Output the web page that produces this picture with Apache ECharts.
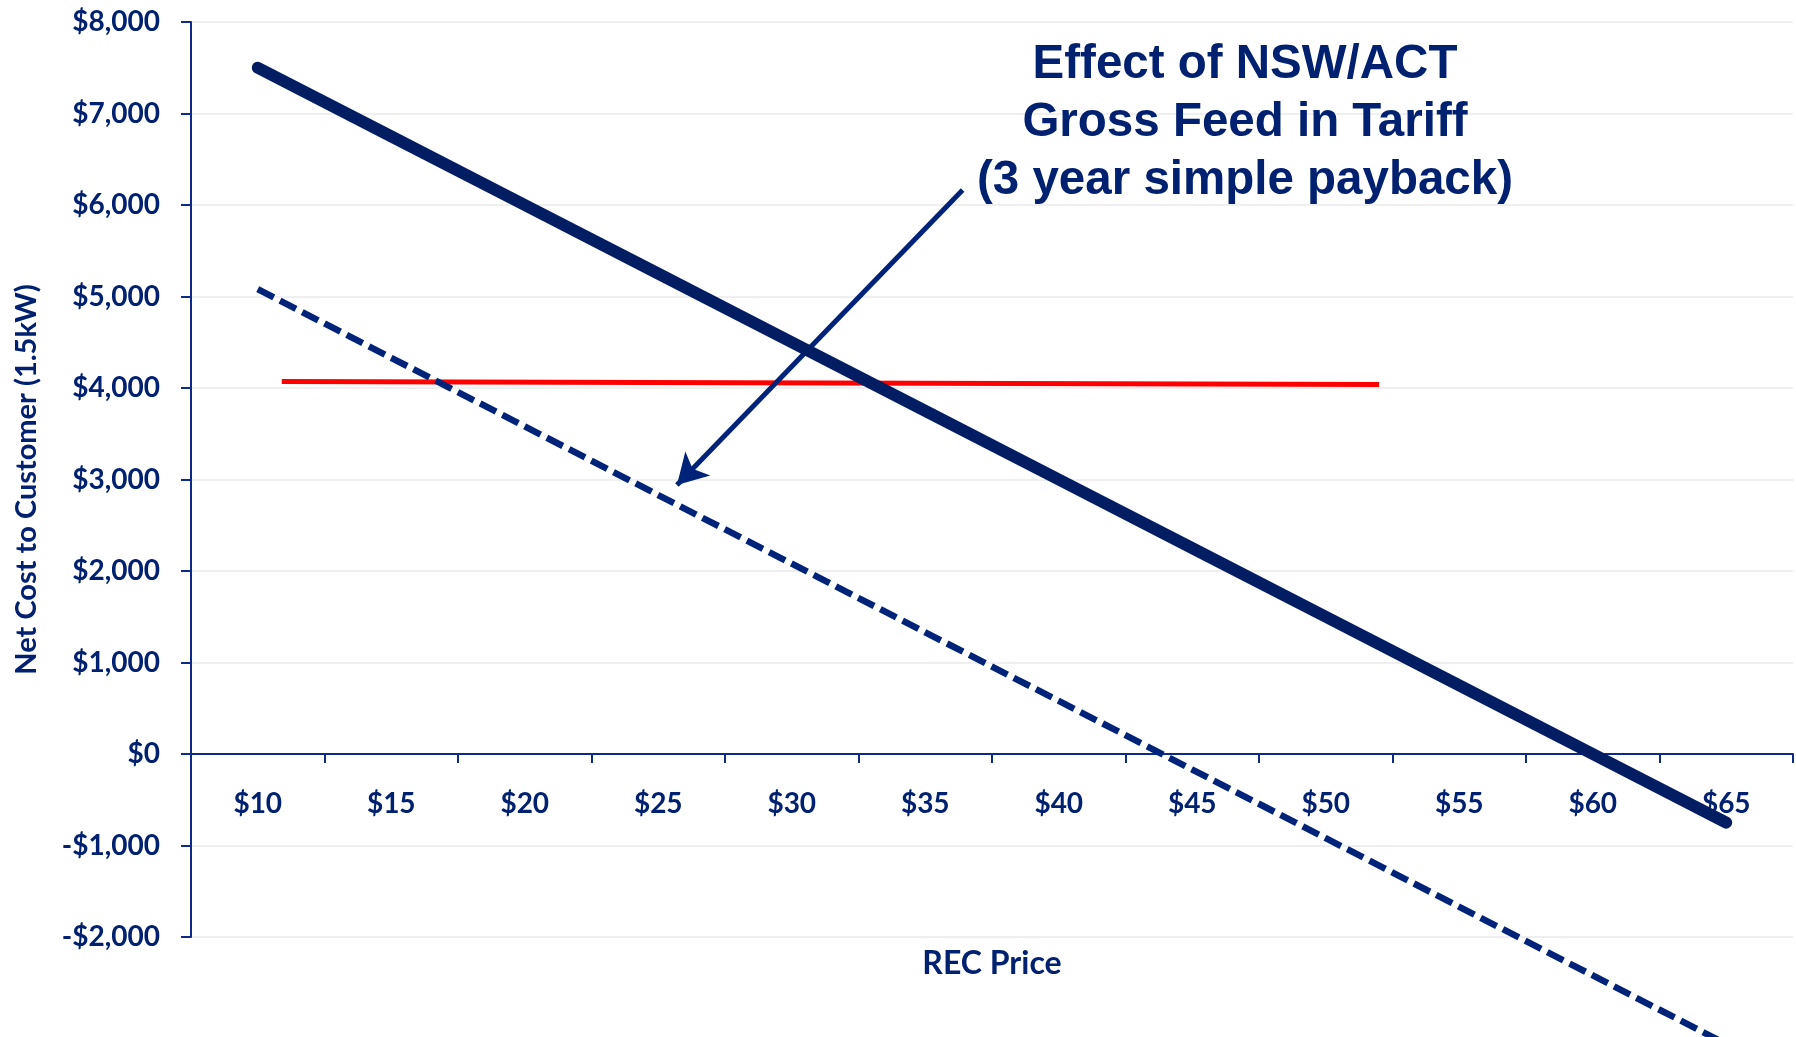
<!DOCTYPE html>
<html>
<head>
<meta charset="utf-8">
<script src="https://cdn.jsdelivr.net/npm/echarts@6/dist/echarts.min.js"></script>
<style>html,body{margin:0;padding:0;background:#fff;}#chart{width:1796px;height:1037px;}</style>
</head>
<body>
<div id="chart"></div>
<script>
// REC price categories
const recPrices = ['$10','$15','$20','$25','$30','$35','$40','$45','$50','$55','$60','$65'];
// Net cost to customer without feed-in tariff
const netCostBase = [7500, 6750, 6000, 5250, 4500, 3750, 3000, 2250, 1500, 750, 0, -750];
// Net cost with NSW/ACT gross feed-in tariff
const netCostFit = [5080, 4330, 3580, 2830, 2080, 1330, 580, -170, -920, -1670, -2420, -3170];
// 3 year simple payback threshold (REC price, cost)
const paybackPrice = [10.9, 52];
const paybackCost = [4070, 4037];
// Annotation arrow (REC price, cost): from text to dashed line
const arrowPrice = [36.4, 25.7];
const arrowCost = [6165, 2940];
// Y tick values
const yMin = -2000, yMax = 8000, yStep = 1000;

const navy = '#002070';
const axisNavy = '#0d2a86';
const fontCal = 'Lato, "Open Sans", sans-serif';

function money(v) {
  const s = Math.abs(v).toLocaleString('en-US');
  return (v < 0 ? '-$' : '$') + s;
}

const chart = echarts.init(document.getElementById('chart'), null, {renderer: 'canvas'});
chart.setOption({
  animation: false,
  backgroundColor: '#ffffff',
  title: {
    text: 'Effect of NSW/ACT\nGross Feed in Tariff\n(3 year simple payback)',
    left: 1240,
    top: 31,
    textAlign: 'center',
    textStyle: {
      fontFamily: '"Liberation Sans", Arial, sans-serif',
      fontWeight: 'bold',
      fontSize: 47.5,
      lineHeight: 58,
      color: navy
    }
  },
  grid: {left: 191, right: 3, top: 22, bottom: 100, containLabel: false, outerBoundsMode: 'none'},
  xAxis: [{
    type: 'category',
    data: recPrices,
    boundaryGap: true,
    name: 'REC Price',
    nameLocation: 'middle',
    nameGap: 11,
    nameMoveOverlap: false,
    nameTextStyle: {fontFamily: fontCal, fontWeight: 'bold', fontSize: 32, color: navy, verticalAlign: 'top'},
    axisLine: {onZero: true, lineStyle: {color: axisNavy, width: 2}},
    axisTick: {show: true, length: 9, lineStyle: {color: axisNavy, width: 2}},
    axisLabel: {margin: -147, fontFamily: fontCal, fontWeight: 'bold', fontSize: 28, color: navy},
    splitLine: {show: false}
  }, {
    type: 'value',
    min: 7.5,
    max: 67.5,
    show: false
  }],
  yAxis: {
    type: 'value',
    min: yMin,
    max: yMax,
    interval: yStep,
    name: 'Net Cost to Customer (1.5kW)',
    nameLocation: 'middle',
    nameRotate: 90,
    nameGap: 150,
    nameTextStyle: {fontFamily: fontCal, fontWeight: 'bold', fontSize: 29, color: navy},
    axisLine: {show: true, lineStyle: {color: axisNavy, width: 2}},
    axisTick: {show: true, length: 10, lineStyle: {color: axisNavy, width: 2}},
    axisLabel: {margin: 31, fontFamily: fontCal, fontWeight: 'bold', fontSize: 28, color: navy, formatter: money},
    splitLine: {show: true, lineStyle: {color: '#efefef', width: 2}}
  },
  series: [{
    name: 'Base',
    type: 'line',
    data: netCostBase,
    xAxisIndex: 0,
    showSymbol: false,
    symbol: 'none',
    clip: false,
    z: 5,
    lineStyle: {color: '#021d62', width: 12, cap: 'round'}
  }, {
    name: 'With FiT',
    type: 'line',
    data: netCostFit,
    xAxisIndex: 0,
    showSymbol: false,
    symbol: 'none',
    clip: false,
    z: 4,
    lineStyle: {color: '#00237a', width: 6.5, type: [18, 7], cap: 'butt'}
  }, {
    name: 'Payback',
    type: 'line',
    xAxisIndex: 1,
    data: paybackPrice.map((p, i) => [p, paybackCost[i]]),
    showSymbol: false,
    symbol: 'none',
    clip: false,
    z: 3,
    lineStyle: {color: '#ff0000', width: 5},
    markLine: {
      silent: true,
      symbol: ['none', 'arrow'],
      symbolSize: [26, 30],
      label: {show: false},
      lineStyle: {color: '#00237a', width: 5, type: 'solid'},
      data: [[
        {coord: [arrowPrice[0], arrowCost[0]]},
        {coord: [arrowPrice[1], arrowCost[1]]}
      ]]
    }
  }]
});
</script>
</body>
</html>
